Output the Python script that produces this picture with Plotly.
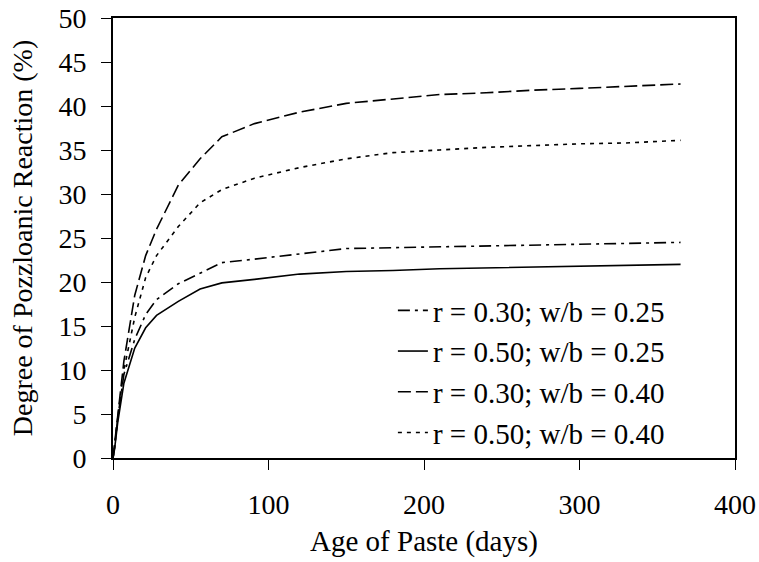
import plotly.graph_objects as go

days = [0, 1, 3, 7, 14, 21, 28, 42, 56, 70, 91, 120, 150, 180, 210, 240, 270, 300, 330, 365]

r30_wb25 = [0, 1.2, 4.5, 9.5, 13.5, 16.3, 18.0, 19.8, 21.0, 22.2, 22.6, 23.2, 23.8, 23.9, 24.0, 24.1, 24.2, 24.3, 24.4, 24.5]
r50_wb25 = [0, 1.0, 4.0, 8.5, 12.5, 14.8, 16.2, 17.8, 19.2, 19.9, 20.3, 20.9, 21.2, 21.3, 21.5, 21.6, 21.7, 21.8, 21.9, 22.0]
r30_wb40 = [0, 1.5, 5.0, 11.0, 18.5, 23.0, 26.0, 31.0, 34.0, 36.5, 38.0, 39.3, 40.3, 40.8, 41.3, 41.5, 41.8, 42.0, 42.2, 42.5]
r50_wb40 = [0, 1.2, 4.5, 10.0, 16.0, 20.5, 23.0, 26.3, 29.0, 30.5, 31.8, 33.0, 34.0, 34.7, 35.0, 35.3, 35.5, 35.7, 35.8, 36.1]

names = ["r = 0.30; w/b = 0.25", "r = 0.50; w/b = 0.25", "r = 0.30; w/b = 0.40", "r = 0.50; w/b = 0.40"]
series = [r30_wb25, r50_wb25, r30_wb40, r50_wb40]
dashes = ["12px,5px,3px,5px", "solid", "13px,5px", "4px,5px"]

x_ticks = [0, 100, 200, 300, 400]
y_ticks = [0, 5, 10, 15, 20, 25, 30, 35, 40, 45, 50]

FONT = "Liberation Serif, Times New Roman, serif"

fig = go.Figure()
for nm, ys, d in zip(names, series, dashes):
    fig.add_trace(go.Scatter(
        x=days, y=ys, mode="lines", name=nm,
        line=dict(color="black", width=1.6, dash=d),
    ))

fig.update_layout(
    width=759, height=562,
    margin=dict(l=113, r=24, t=18, b=104),
    paper_bgcolor="white", plot_bgcolor="white",
    font=dict(family=FONT, size=28, color="black"),
    showlegend=True,
    legend=dict(
        x=0.45, y=0.0, xanchor="left", yanchor="bottom",
        bgcolor="rgba(0,0,0,0)", borderwidth=0,
        font=dict(family=FONT, size=29, color="black"),
        tracegroupgap=0,
    ),
)
fig.update_xaxes(
    range=[0, 400], tickvals=x_ticks, ticks="outside", ticklen=10, tickwidth=1.2,
    tickcolor="black", showline=True, linecolor="black", linewidth=2, mirror=True,
    showgrid=False, zeroline=False, ticklabelstandoff=10, automargin=False,
    title=dict(text="Age of Paste (days)", font=dict(family=FONT, size=29), standoff=12),
    tickfont=dict(family=FONT, size=28),
)
fig.update_yaxes(
    range=[0, 50], tickvals=y_ticks, ticks="outside", ticklen=10, tickwidth=1.2,
    tickcolor="black", showline=True, linecolor="black", linewidth=2, mirror=True,
    showgrid=False, zeroline=False, ticklabelstandoff=9, automargin=False,
    title=dict(text="Degree of Pozzloanic Reaction (%)", font=dict(family=FONT, size=28), standoff=18),
    tickfont=dict(family=FONT, size=28),
)

# remove the browser's default 8px body margin so the figure fills the window exactly
fig.write_html(
    "out.html",
    config={"displayModeBar": False},
    post_script="document.body.style.margin='0px';",
)
